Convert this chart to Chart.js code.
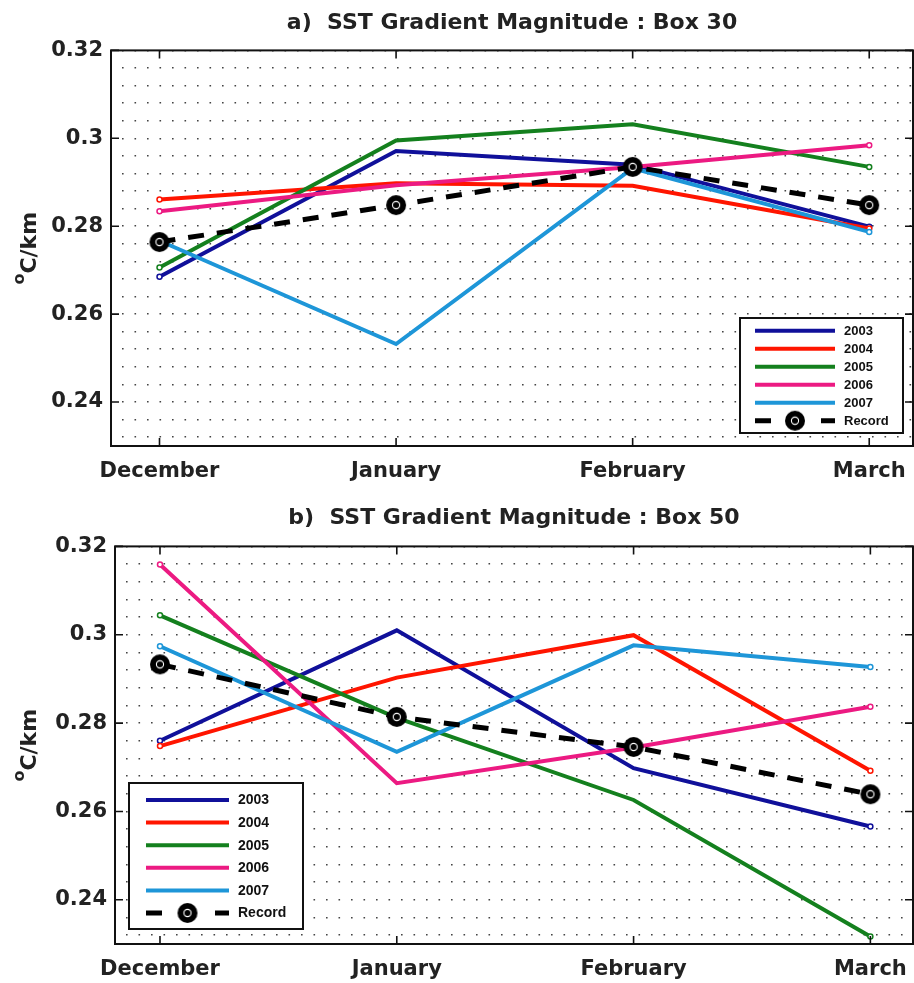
<!DOCTYPE html>
<html>
<head>
<meta charset="utf-8">
<script src="https://cdn.jsdelivr.net/npm/chart.js@4.4.0/dist/chart.umd.min.js"></script>
<style>
  html, body { margin: 0; padding: 0; background: #fff; overflow: hidden; }
  canvas { display: block; }
</style>
</head>
<body>
<canvas id="box30" width="914" height="495"></canvas>
<canvas id="box50" width="914" height="488"></canvas>
<script>
// monthly SST gradient magnitude (degC/km), one array per year
var months = ['December', 'January', 'February', 'March'];
var years = ['2003', '2004', '2005', '2006', '2007'];

var box30_2003 = [0.2685, 0.2971, 0.2940, 0.2799];
var box30_2004 = [0.2861, 0.2898, 0.2892, 0.2795];
var box30_2005 = [0.2706, 0.2995, 0.3032, 0.2935];
var box30_2006 = [0.2834, 0.2893, 0.2935, 0.2984];
var box30_2007 = [0.2767, 0.2532, 0.2932, 0.2787];
var box30_record = [0.2764, 0.2848, 0.2935, 0.2848];

var box50_2003 = [0.2760, 0.3010, 0.2698, 0.2566];
var box50_2004 = [0.2748, 0.2903, 0.2999, 0.2692];
var box50_2005 = [0.3044, 0.2812, 0.2626, 0.2317];
var box50_2006 = [0.3159, 0.2664, 0.2745, 0.2837];
var box50_2007 = [0.2974, 0.2735, 0.2976, 0.2927];
var box50_record = [0.2933, 0.2814, 0.2746, 0.2639];

var yMin = 0.23, yMax = 0.32;
var majorTicks = [0.24, 0.26, 0.28, 0.30, 0.32];
var yearColors = ['#10109a', '#ff1500', '#14801e', '#ec1a82', '#1e96d8'];

Chart.defaults.color = '#111';
var tickFont = { family: "'DejaVu Sans', sans-serif", size: 21, weight: 'bold' };

// black disc with a thin white ring, like the "Record" marker
function recordMarker(r) {
    var c = document.createElement('canvas');
    var s = r * 2 + 2;
    c.width = s; c.height = s;
    var g = c.getContext('2d');
    g.fillStyle = '#000';
    g.beginPath(); g.arc(s / 2, s / 2, r, 0, Math.PI * 2); g.fill();
    g.strokeStyle = '#fff'; g.lineWidth = 1.1;
    g.beginPath(); g.arc(s / 2, s / 2, r * 0.36, 0, Math.PI * 2); g.stroke();
    return c;
}
var marker = recordMarker(10);

function isMajor(v) {
    return majorTicks.some(function(m) { return Math.abs(m - v) < 1e-6; });
}

function toPoints(arr) {
    return arr.map(function(v, i) { return { x: i, y: v }; });
}

function buildDatasets(seriesList, record) {
    var ds = seriesList.map(function(arr, i) {
        return {
            label: years[i],
            data: toPoints(arr),
            borderColor: yearColors[i],
            backgroundColor: yearColors[i],
            borderWidth: 4,
            pointRadius: function(c) { return (c.dataIndex === 0 || c.dataIndex === arr.length - 1) ? 2.5 : 0; },
            pointBackgroundColor: '#fff',
            pointBorderColor: yearColors[i],
            pointBorderWidth: 1.5,
            tension: 0,
            order: 5 - i
        };
    });
    ds.push({
        label: 'Record',
        data: toPoints(record),
        borderColor: '#000',
        backgroundColor: '#000',
        borderWidth: 5,
        borderDash: [16, 13],
        pointStyle: marker,
        pointRadius: 10,
        tension: 0,
        order: 0
    });
    return ds;
}

// frame, inward ticks and the rotated unit label
var frame = {
    id: 'frame',
    afterDraw: function(chart) {
        var a = chart.chartArea, ctx = chart.ctx;
        var xs = chart.scales.x, ys = chart.scales.y;
        ctx.save();
        ctx.strokeStyle = '#111';
        ctx.lineWidth = 2;
        ctx.strokeRect(a.left, a.top, a.right - a.left, a.bottom - a.top);
        ctx.lineWidth = 1.6;
        ctx.beginPath();
        months.forEach(function(m, i) {
            var px = xs.getPixelForValue(i);
            ctx.moveTo(px, a.bottom); ctx.lineTo(px, a.bottom - 8);
            ctx.moveTo(px, a.top); ctx.lineTo(px, a.top + 8);
        });
        majorTicks.forEach(function(v) {
            var py = ys.getPixelForValue(v);
            ctx.moveTo(a.left, py); ctx.lineTo(a.left + 8, py);
            ctx.moveTo(a.right, py); ctx.lineTo(a.right - 8, py);
        });
        ctx.stroke();

        // unit label with superscript "o"
        var cy = (a.top + a.bottom) / 2;
        ctx.translate(36, cy);
        ctx.rotate(-Math.PI / 2);
        ctx.fillStyle = '#222';
        ctx.textBaseline = 'alphabetic';
        ctx.textAlign = 'left';
        ctx.font = "bold 16px 'DejaVu Sans', sans-serif";
        var wo = ctx.measureText('o').width;
        ctx.font = "bold 22px 'DejaVu Sans', sans-serif";
        var wm = ctx.measureText('C/km').width;
        var u = -(wo + wm) / 2;
        ctx.font = "bold 16px 'DejaVu Sans', sans-serif";
        ctx.fillText('o', u, -12);
        ctx.font = "bold 22px 'DejaVu Sans', sans-serif";
        ctx.fillText('C/km', u + wo, 0);
        ctx.restore();
    }
};

// boxed legend placed inside the plot
var boxLegend = {
    id: 'boxLegend',
    afterDatasetsDraw: function(chart, args, o) {
        var ctx = chart.ctx;
        ctx.save();
        ctx.fillStyle = '#fff';
        ctx.fillRect(o.x, o.y, o.w, o.h);
        ctx.lineWidth = 2;
        ctx.strokeStyle = '#111';
        ctx.strokeRect(o.x, o.y, o.w, o.h);
        ctx.font = 'bold ' + o.fontSize + "px 'Liberation Sans', Arial, sans-serif";
        ctx.textBaseline = 'middle';
        chart.data.datasets.forEach(function(ds, i) {
            var y = o.y + o.first + i * o.step;
            var x0 = o.x + o.lineFrom, x1 = o.x + o.lineTo;
            ctx.strokeStyle = ds.borderColor;
            ctx.lineWidth = ds.borderWidth;
            ctx.beginPath();
            if (ds.borderDash) {
                ctx.moveTo(x0, y); ctx.lineTo(x0 + 16, y);
                ctx.moveTo(x1 - 14, y); ctx.lineTo(x1, y);
            } else {
                ctx.moveTo(x0, y); ctx.lineTo(x1, y);
            }
            ctx.stroke();
            if (ds.pointStyle === marker) {
                ctx.drawImage(marker, (x0 + x1) / 2 - marker.width / 2, y - marker.height / 2);
            }
            ctx.fillStyle = '#111';
            ctx.fillText(ds.label, o.x + o.textX, y + 0.5);
        });
        ctx.restore();
    }
};

function makeChart(id, title, seriesList, record, lay, legendBox) {
    return new Chart(document.getElementById(id), {
        type: 'line',
        data: { datasets: buildDatasets(seriesList, record) },
        plugins: [frame, boxLegend],
        options: {
            responsive: false,
            animation: false,
            events: [],
            layout: {
                autoPadding: false,
                padding: { left: 0, right: 914 - lay.right, top: 0, bottom: 0 }
            },
            plugins: {
                legend: { display: false },
                tooltip: { enabled: false },
                title: {
                    display: true,
                    text: title,
                    fullSize: false,
                    color: '#222',
                    font: { family: "'DejaVu Sans', sans-serif", size: 22, weight: 'bold' },
                    padding: { top: lay.titleTop, bottom: lay.titleBottom }
                },
                boxLegend: legendBox
            },
            scales: {
                x: {
                    type: 'linear',
                    min: lay.xMin,
                    max: lay.xMax,
                    afterBuildTicks: function(s) { s.ticks = months.map(function(m, i) { return { value: i }; }); },
                    afterFit: function(s) {
                        s.height = lay.xAxisHeight;
                        s.paddingLeft = 0;
                        s.paddingRight = 0;
                    },
                    grid: { display: false },
                    border: { display: false },
                    ticks: {
                        font: tickFont,
                        color: '#222',
                        padding: lay.xPad,
                        maxRotation: 0,
                        autoSkip: false,
                        callback: function(v) { return months[v]; }
                    }
                },
                y: {
                    type: 'linear',
                    min: yMin,
                    max: yMax,
                    afterBuildTicks: function(s) {
                        var t = [];
                        for (var k = 58; k <= 80; k++) t.push({ value: k * 0.004 });
                        s.ticks = t;
                    },
                    afterFit: function(s) {
                        s.width = lay.left;
                        s.paddingTop = 0;
                        s.paddingBottom = 0;
                    },
                    grid: { color: '#444', lineWidth: 1.6, drawTicks: false },
                    border: { display: false, dash: [1.6, 10.9], dashOffset: -11 },
                    ticks: {
                        font: tickFont,
                        color: '#222',
                        padding: 8,
                        autoSkip: false,
                        callback: function(v) { return isMajor(v) ? String(Number(v.toFixed(2))) : ''; }
                    }
                }
            }
        }
    });
}

makeChart('box30', 'a)  SST Gradient Magnitude : Box 30',
    [box30_2003, box30_2004, box30_2005, box30_2006, box30_2007], box30_record,
    { left: 111, right: 913, titleTop: 10, titleBottom: 14, xAxisHeight: 49, xPad: 5, xMin: -0.205, xMax: 3.185 },
    { x: 740, y: 318, w: 163, h: 115, first: 12.7, step: 18, lineFrom: 15, lineTo: 95, textX: 104, fontSize: 13 });

makeChart('box50', 'b)  SST Gradient Magnitude : Box 50',
    [box50_2003, box50_2004, box50_2005, box50_2006, box50_2007], box50_record,
    { left: 115, right: 913, titleTop: 10, titleBottom: 15, xAxisHeight: 39, xPad: 5, xMin: -0.19, xMax: 3.18 },
    { x: 129, y: 288, w: 174, h: 146, first: 17, step: 22.6, lineFrom: 17, lineTo: 100, textX: 109, fontSize: 14 });
</script>
</body>
</html>
